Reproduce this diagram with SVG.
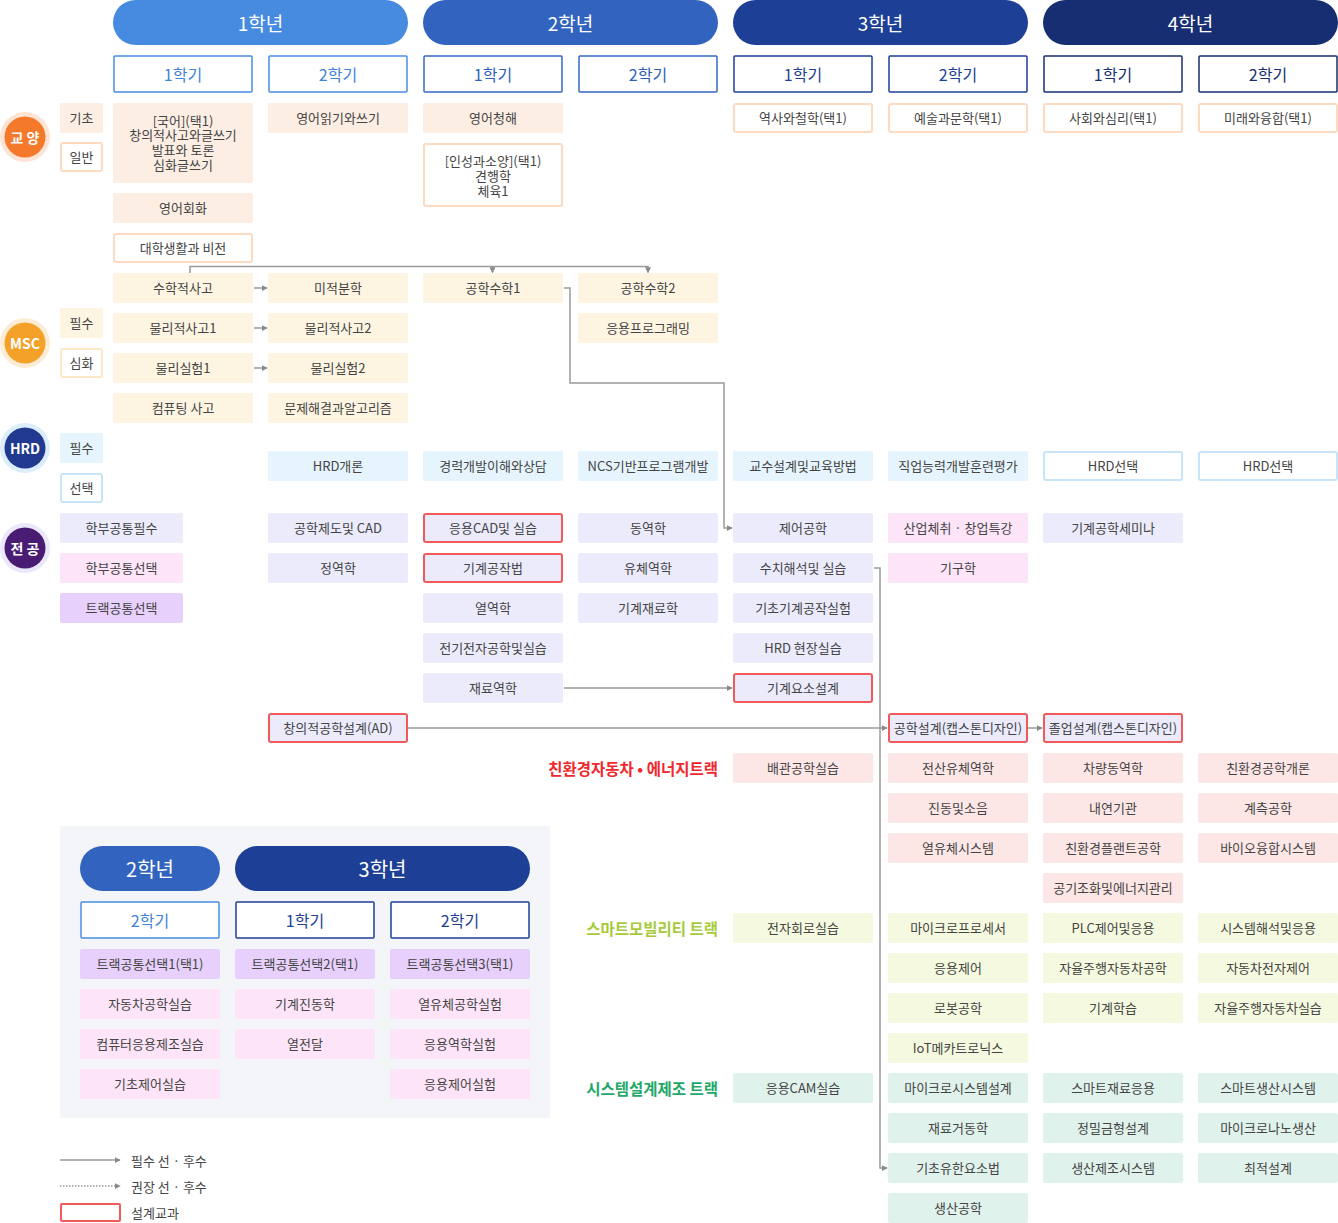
<svg xmlns="http://www.w3.org/2000/svg" width="1338" height="1223" viewBox="0 0 1338 1223">
<style>
text{font-family:"Noto Sans CJK KR","Noto Sans",sans-serif;dominant-baseline:central;text-anchor:middle}
.t{font-size:13px;fill:#444}
.yr{font-size:19px;fill:#fff}
.sm{font-size:16px}
.gy{fill:#fdeee4}
.go{fill:#fff;stroke:#fddac2;stroke-width:2}
.ms{fill:#fdf5e1}
.mso{fill:#fff;stroke:#fde9c6;stroke-width:2}
.hr{fill:#e6f4fd}
.hro{fill:#fff;stroke:#c8e4f8;stroke-width:2}
.mj{fill:#ebebfc}
.pk{fill:#fde4f8}
.pu{fill:#e7d0fb}
.rd{stroke:#f05a5a;stroke-width:2}
.r1{fill:#fde6e6}
.r2{fill:#f4f9df}
.r3{fill:#e0f2ec}
.con{fill:none;stroke:#9a9a9a;stroke-width:1.5}
.trk{font-size:15.5px;font-weight:bold;text-anchor:end}
</style>
<defs>
<marker id="ah" viewBox="0 0 8 8" refX="7" refY="4" markerWidth="6" markerHeight="6" markerUnits="userSpaceOnUse" orient="auto"><path d="M0,0 L8,4 L0,8 z" fill="#8a8a8a"/></marker>
</defs>

<!-- year headers -->
<g id="years">
<rect x="113" y="0" width="295" height="45" rx="22.5" fill="#468be0"/><text class="yr" x="260.5" y="22.5">1학년</text>
<rect x="423" y="0" width="295" height="45" rx="22.5" fill="#3264bf"/><text class="yr" x="570.5" y="22.5">2학년</text>
<rect x="733" y="0" width="295" height="45" rx="22.5" fill="#1e3f96"/><text class="yr" x="880.5" y="22.5">3학년</text>
<rect x="1043" y="0" width="295" height="45" rx="22.5" fill="#172f72"/><text class="yr" x="1190.5" y="22.5">4학년</text>
</g>
<g id="semesters">
<rect x="114" y="56" width="138" height="36" fill="#fff" stroke="#4a8de0" stroke-width="1.5" rx="1"/><text class="sm" x="183" y="74" fill="#3f83dc">1학기</text>
<rect x="269" y="56" width="138" height="36" fill="#fff" stroke="#4a8de0" stroke-width="1.5" rx="1"/><text class="sm" x="338" y="74" fill="#3f83dc">2학기</text>
<rect x="424" y="56" width="138" height="36" fill="#fff" stroke="#3567c3" stroke-width="1.5" rx="1"/><text class="sm" x="493" y="74" fill="#2e5fbb">1학기</text>
<rect x="579" y="56" width="138" height="36" fill="#fff" stroke="#3567c3" stroke-width="1.5" rx="1"/><text class="sm" x="648" y="74" fill="#2e5fbb">2학기</text>
<rect x="734" y="56" width="138" height="36" fill="#fff" stroke="#1e3f96" stroke-width="1.5" rx="1"/><text class="sm" x="803" y="74" fill="#1e3f96">1학기</text>
<rect x="889" y="56" width="138" height="36" fill="#fff" stroke="#1e3f96" stroke-width="1.5" rx="1"/><text class="sm" x="958" y="74" fill="#1e3f96">2학기</text>
<rect x="1044" y="56" width="138" height="36" fill="#fff" stroke="#172f72" stroke-width="1.5" rx="1"/><text class="sm" x="1113" y="74" fill="#172f72">1학기</text>
<rect x="1199" y="56" width="138" height="36" fill="#fff" stroke="#172f72" stroke-width="1.5" rx="1"/><text class="sm" x="1268" y="74" fill="#172f72">2학기</text>
</g>

<!-- category circles -->
<g id="cat-gyoyang"><circle cx="25" cy="137" r="25" fill="#fde4d4"/><circle cx="25" cy="137" r="20.5" fill="#f5792a"/><text x="25" y="137" font-size="14" font-weight="bold" fill="#fff">교 양</text></g>
<g id="cat-msc"><circle cx="25" cy="343" r="25" fill="#fdecd5"/><circle cx="25" cy="343" r="20.5" fill="#f4a12a"/><text x="25" y="343" font-size="14" font-weight="bold" fill="#fff">MSC</text></g>
<g id="cat-hrd"><circle cx="25" cy="448" r="25" fill="#dcedfb"/><circle cx="25" cy="448" r="20.5" fill="#213a8f"/><text x="25" y="448" font-size="14" font-weight="bold" fill="#fff">HRD</text></g>
<g id="cat-major"><circle cx="25" cy="548" r="25" fill="#ebe8fb"/><circle cx="25" cy="548" r="20.5" fill="#4a1b73"/><text x="25" y="548" font-size="14" font-weight="bold" fill="#fff">전 공</text></g>

<!-- sub labels -->
<g id="lab-basic"><rect class="gy" x="60" y="103" width="43" height="30" rx="2"/><text class="t" x="81.5" y="117.5">기초</text></g>
<g id="lab-general"><rect class="go" x="61" y="143" width="41" height="28" rx="2"/><text class="t" x="81.5" y="156.5">일반</text></g>
<g id="lab-msc-req"><rect class="ms" x="60" y="308" width="43" height="30" rx="2"/><text class="t" x="81.5" y="322.5">필수</text></g>
<g id="lab-msc-adv"><rect class="mso" x="61" y="349" width="41" height="28" rx="2"/><text class="t" x="81.5" y="362.5">심화</text></g>
<g id="lab-hrd-req"><rect class="hr" x="60" y="433" width="43" height="30" rx="2"/><text class="t" x="81.5" y="447.5">필수</text></g>
<g id="lab-hrd-sel"><rect class="hro" x="61" y="474" width="41" height="28" rx="2"/><text class="t" x="81.5" y="487.5">선택</text></g>
<g id="lab-m1"><rect class="mj" x="60" y="513" width="123" height="30" rx="2"/><text class="t" x="121.5" y="527.5">학부공통필수</text></g>
<g id="lab-m2"><rect class="pk" x="60" y="553" width="123" height="30" rx="2"/><text class="t" x="121.5" y="567.5">학부공통선택</text></g>
<g id="lab-m3"><rect class="pu" x="60" y="593" width="123" height="30" rx="2"/><text class="t" x="121.5" y="607.5">트랙공통선택</text></g>

<!-- 교양 -->
<g id="n-korean"><rect class="gy" x="113" y="103" width="140" height="80" rx="2"/><text class="t" x="183" y="119.5"><tspan x="183">[국어](택1)</tspan><tspan x="183" dy="14.8">창의적사고와글쓰기</tspan><tspan x="183" dy="14.8">발표와 토론</tspan><tspan x="183" dy="14.8">심화글쓰기</tspan></text></g>
<g id="n-eng-rw"><rect class="gy" x="268" y="103" width="140" height="30" rx="2"/><text class="t" x="338" y="117.5">영어읽기와쓰기</text></g>
<g id="n-eng-listen"><rect class="gy" x="423" y="103" width="140" height="30" rx="2"/><text class="t" x="493" y="117.5">영어청해</text></g>
<g id="n-insung"><rect class="go" x="424" y="144" width="138" height="62" rx="2"/><text class="t" x="493" y="159.5"><tspan x="493">[인성과소양](택1)</tspan><tspan x="493" dy="15">견행학</tspan><tspan x="493" dy="15">체육1</tspan></text></g>
<g id="n-history"><rect class="go" x="734" y="104" width="138" height="28" rx="2"/><text class="t" x="803" y="117.5">역사와철학(택1)</text></g>
<g id="n-art"><rect class="go" x="889" y="104" width="138" height="28" rx="2"/><text class="t" x="958" y="117.5">예술과문학(택1)</text></g>
<g id="n-society"><rect class="go" x="1044" y="104" width="138" height="28" rx="2"/><text class="t" x="1113" y="117.5">사회와심리(택1)</text></g>
<g id="n-future"><rect class="go" x="1199" y="104" width="138" height="28" rx="2"/><text class="t" x="1268" y="117.5">미래와융합(택1)</text></g>
<g id="n-eng-conv"><rect class="gy" x="113" y="193" width="140" height="30" rx="2"/><text class="t" x="183" y="207.5">영어회화</text></g>
<g id="n-college"><rect class="go" x="114" y="234" width="138" height="28" rx="2"/><text class="t" x="183" y="247.5">대학생활과 비전</text></g>

<!-- MSC -->
<g id="n-math-think"><rect class="ms" x="113" y="273" width="140" height="30" rx="2"/><text class="t" x="183" y="287.5">수학적사고</text></g>
<g id="n-calculus"><rect class="ms" x="268" y="273" width="140" height="30" rx="2"/><text class="t" x="338" y="287.5">미적분학</text></g>
<g id="n-engmath1"><rect class="ms" x="423" y="273" width="140" height="30" rx="2"/><text class="t" x="493" y="287.5">공학수학1</text></g>
<g id="n-engmath2"><rect class="ms" x="578" y="273" width="140" height="30" rx="2"/><text class="t" x="648" y="287.5">공학수학2</text></g>
<g id="n-phys1"><rect class="ms" x="113" y="313" width="140" height="30" rx="2"/><text class="t" x="183" y="327.5">물리적사고1</text></g>
<g id="n-phys2"><rect class="ms" x="268" y="313" width="140" height="30" rx="2"/><text class="t" x="338" y="327.5">물리적사고2</text></g>
<g id="n-appprog"><rect class="ms" x="578" y="313" width="140" height="30" rx="2"/><text class="t" x="648" y="327.5">응용프로그래밍</text></g>
<g id="n-physlab1"><rect class="ms" x="113" y="353" width="140" height="30" rx="2"/><text class="t" x="183" y="367.5">물리실험1</text></g>
<g id="n-physlab2"><rect class="ms" x="268" y="353" width="140" height="30" rx="2"/><text class="t" x="338" y="367.5">물리실험2</text></g>
<g id="n-computing"><rect class="ms" x="113" y="393" width="140" height="30" rx="2"/><text class="t" x="183" y="407.5">컴퓨팅 사고</text></g>
<g id="n-algo"><rect class="ms" x="268" y="393" width="140" height="30" rx="2"/><text class="t" x="338" y="407.5">문제해결과알고리즘</text></g>

<!-- HRD -->
<g id="n-hrd-intro"><rect class="hr" x="268" y="451" width="140" height="30" rx="2"/><text class="t" x="338" y="465.5">HRD개론</text></g>
<g id="n-career"><rect class="hr" x="423" y="451" width="140" height="30" rx="2"/><text class="t" x="493" y="465.5">경력개발이해와상담</text></g>
<g id="n-ncs"><rect class="hr" x="578" y="451" width="140" height="30" rx="2"/><text class="t" x="648" y="465.5">NCS기반프로그램개발</text></g>
<g id="n-teach"><rect class="hr" x="733" y="451" width="140" height="30" rx="2"/><text class="t" x="803" y="465.5">교수설계및교육방법</text></g>
<g id="n-eval"><rect class="hr" x="888" y="451" width="140" height="30" rx="2"/><text class="t" x="958" y="465.5">직업능력개발훈련평가</text></g>
<g id="n-hrdsel1"><rect class="hro" x="1044" y="452" width="138" height="28" rx="2"/><text class="t" x="1113" y="465.5">HRD선택</text></g>
<g id="n-hrdsel2"><rect class="hro" x="1199" y="452" width="138" height="28" rx="2"/><text class="t" x="1268" y="465.5">HRD선택</text></g>

<!-- 전공 -->
<g id="n-drawing"><rect class="mj" x="268" y="513" width="140" height="30" rx="2"/><text class="t" x="338" y="527.5">공학제도및 CAD</text></g>
<g id="n-statics"><rect class="mj" x="268" y="553" width="140" height="30" rx="2"/><text class="t" x="338" y="567.5">정역학</text></g>
<g id="n-ad"><rect class="mj rd" x="269" y="714" width="138" height="28" rx="2"/><text class="t" x="338" y="727.5">창의적공학설계(AD)</text></g>
<g id="n-appcad"><rect class="mj rd" x="424" y="514" width="138" height="28" rx="2"/><text class="t" x="493" y="527.5">응용CAD및 실습</text></g>
<g id="n-machining"><rect class="mj rd" x="424" y="554" width="138" height="28" rx="2"/><text class="t" x="493" y="567.5">기계공작법</text></g>
<g id="n-thermo"><rect class="mj" x="423" y="593" width="140" height="30" rx="2"/><text class="t" x="493" y="607.5">열역학</text></g>
<g id="n-elec"><rect class="mj" x="423" y="633" width="140" height="30" rx="2"/><text class="t" x="493" y="647.5">전기전자공학및실습</text></g>
<g id="n-mechmat"><rect class="mj" x="423" y="673" width="140" height="30" rx="2"/><text class="t" x="493" y="687.5">재료역학</text></g>
<g id="n-dynamics"><rect class="mj" x="578" y="513" width="140" height="30" rx="2"/><text class="t" x="648" y="527.5">동역학</text></g>
<g id="n-fluid"><rect class="mj" x="578" y="553" width="140" height="30" rx="2"/><text class="t" x="648" y="567.5">유체역학</text></g>
<g id="n-materials"><rect class="mj" x="578" y="593" width="140" height="30" rx="2"/><text class="t" x="648" y="607.5">기계재료학</text></g>
<g id="n-control"><rect class="mj" x="733" y="513" width="140" height="30" rx="2"/><text class="t" x="803" y="527.5">제어공학</text></g>
<g id="n-numeric"><rect class="mj" x="733" y="553" width="140" height="30" rx="2"/><text class="t" x="803" y="567.5">수치해석및 실습</text></g>
<g id="n-basiclab"><rect class="mj" x="733" y="593" width="140" height="30" rx="2"/><text class="t" x="803" y="607.5">기초기계공작실험</text></g>
<g id="n-hrdfield"><rect class="mj" x="733" y="633" width="140" height="30" rx="2"/><text class="t" x="803" y="647.5">HRD 현장실습</text></g>
<g id="n-element"><rect class="mj rd" x="734" y="674" width="138" height="28" rx="2"/><text class="t" x="803" y="687.5">기계요소설계</text></g>
<g id="n-industry"><rect class="pk" x="888" y="513" width="140" height="30" rx="2"/><text class="t" x="958" y="527.5">산업체취 · 창업특강</text></g>
<g id="n-kinematics"><rect class="pk" x="888" y="553" width="140" height="30" rx="2"/><text class="t" x="958" y="567.5">기구학</text></g>
<g id="n-capstone1"><rect class="mj rd" x="889" y="714" width="138" height="28" rx="2"/><text class="t" x="958" y="727.5">공학설계(캡스톤디자인)</text></g>
<g id="n-seminar"><rect class="mj" x="1043" y="513" width="140" height="30" rx="2"/><text class="t" x="1113" y="527.5">기계공학세미나</text></g>
<g id="n-capstone2"><rect class="mj rd" x="1044" y="714" width="138" height="28" rx="2"/><text class="t" x="1113" y="727.5">졸업설계(캡스톤디자인)</text></g>

<!-- tracks -->
<text class="trk" x="718" y="767.5" fill="#f0282d">친환경자동차 • 에너지트랙</text>
<text class="trk" x="718" y="927.5" fill="#a7cb3a">스마트모빌리티 트랙</text>
<text class="trk" x="718" y="1087.5" fill="#1fa86a">시스템설계제조 트랙</text>

<g id="n-pipe"><rect class="r1" x="733" y="753" width="140" height="30" rx="2"/><text class="t" x="803" y="767.5">배관공학실습</text></g>
<g id="n-cfd"><rect class="r1" x="888" y="753" width="140" height="30" rx="2"/><text class="t" x="958" y="767.5">전산유체역학</text></g>
<g id="n-vib"><rect class="r1" x="888" y="793" width="140" height="30" rx="2"/><text class="t" x="958" y="807.5">진동및소음</text></g>
<g id="n-thermsys"><rect class="r1" x="888" y="833" width="140" height="30" rx="2"/><text class="t" x="958" y="847.5">열유체시스템</text></g>
<g id="n-vehdyn"><rect class="r1" x="1043" y="753" width="140" height="30" rx="2"/><text class="t" x="1113" y="767.5">차량동역학</text></g>
<g id="n-engine"><rect class="r1" x="1043" y="793" width="140" height="30" rx="2"/><text class="t" x="1113" y="807.5">내연기관</text></g>
<g id="n-plant"><rect class="r1" x="1043" y="833" width="140" height="30" rx="2"/><text class="t" x="1113" y="847.5">친환경플랜트공학</text></g>
<g id="n-hvac"><rect class="r1" x="1043" y="873" width="140" height="30" rx="2"/><text class="t" x="1113" y="887.5">공기조화및에너지관리</text></g>
<g id="n-eco"><rect class="r1" x="1198" y="753" width="140" height="30" rx="2"/><text class="t" x="1268" y="767.5">친환경공학개론</text></g>
<g id="n-measure"><rect class="r1" x="1198" y="793" width="140" height="30" rx="2"/><text class="t" x="1268" y="807.5">계측공학</text></g>
<g id="n-bio"><rect class="r1" x="1198" y="833" width="140" height="30" rx="2"/><text class="t" x="1268" y="847.5">바이오융합시스템</text></g>

<g id="n-circuit"><rect class="r2" x="733" y="913" width="140" height="30" rx="2"/><text class="t" x="803" y="927.5">전자회로실습</text></g>
<g id="n-micro"><rect class="r2" x="888" y="913" width="140" height="30" rx="2"/><text class="t" x="958" y="927.5">마이크로프로세서</text></g>
<g id="n-appctrl"><rect class="r2" x="888" y="953" width="140" height="30" rx="2"/><text class="t" x="958" y="967.5">응용제어</text></g>
<g id="n-robot"><rect class="r2" x="888" y="993" width="140" height="30" rx="2"/><text class="t" x="958" y="1007.5">로봇공학</text></g>
<g id="n-iot"><rect class="r2" x="888" y="1033" width="140" height="30" rx="2"/><text class="t" x="958" y="1047.5">IoT메카트로닉스</text></g>
<g id="n-plc"><rect class="r2" x="1043" y="913" width="140" height="30" rx="2"/><text class="t" x="1113" y="927.5">PLC제어및응용</text></g>
<g id="n-auto"><rect class="r2" x="1043" y="953" width="140" height="30" rx="2"/><text class="t" x="1113" y="967.5">자율주행자동차공학</text></g>
<g id="n-ml"><rect class="r2" x="1043" y="993" width="140" height="30" rx="2"/><text class="t" x="1113" y="1007.5">기계학습</text></g>
<g id="n-sysana"><rect class="r2" x="1198" y="913" width="140" height="30" rx="2"/><text class="t" x="1268" y="927.5">시스템해석및응용</text></g>
<g id="n-autoelec"><rect class="r2" x="1198" y="953" width="140" height="30" rx="2"/><text class="t" x="1268" y="967.5">자동차전자제어</text></g>
<g id="n-autolab"><rect class="r2" x="1198" y="993" width="140" height="30" rx="2"/><text class="t" x="1268" y="1007.5">자율주행자동차실습</text></g>

<g id="n-cam"><rect class="r3" x="733" y="1073" width="140" height="30" rx="2"/><text class="t" x="803" y="1087.5">응용CAM실습</text></g>
<g id="n-microsys"><rect class="r3" x="888" y="1073" width="140" height="30" rx="2"/><text class="t" x="958" y="1087.5">마이크로시스템설계</text></g>
<g id="n-matbeh"><rect class="r3" x="888" y="1113" width="140" height="30" rx="2"/><text class="t" x="958" y="1127.5">재료거동학</text></g>
<g id="n-fem"><rect class="r3" x="888" y="1153" width="140" height="30" rx="2"/><text class="t" x="958" y="1167.5">기초유한요소법</text></g>
<g id="n-prodeng"><rect class="r3" x="888" y="1193" width="140" height="30" rx="2"/><text class="t" x="958" y="1207.5">생산공학</text></g>
<g id="n-smartmat"><rect class="r3" x="1043" y="1073" width="140" height="30" rx="2"/><text class="t" x="1113" y="1087.5">스마트재료응용</text></g>
<g id="n-mold"><rect class="r3" x="1043" y="1113" width="140" height="30" rx="2"/><text class="t" x="1113" y="1127.5">정밀금형설계</text></g>
<g id="n-mfgsys"><rect class="r3" x="1043" y="1153" width="140" height="30" rx="2"/><text class="t" x="1113" y="1167.5">생산제조시스템</text></g>
<g id="n-smartprod"><rect class="r3" x="1198" y="1073" width="140" height="30" rx="2"/><text class="t" x="1268" y="1087.5">스마트생산시스템</text></g>
<g id="n-nano"><rect class="r3" x="1198" y="1113" width="140" height="30" rx="2"/><text class="t" x="1268" y="1127.5">마이크로나노생산</text></g>
<g id="n-optimal"><rect class="r3" x="1198" y="1153" width="140" height="30" rx="2"/><text class="t" x="1268" y="1167.5">최적설계</text></g>

<!-- inset panel -->
<g id="inset">
<rect x="60" y="826" width="490" height="292" fill="#f4f5f8"/>
<rect x="80" y="846" width="140" height="45" rx="22.5" fill="#3264bf"/><text x="150" y="868.5" font-size="20" fill="#fff">2학년</text>
<rect x="235" y="846" width="295" height="45" rx="22.5" fill="#1e3f96"/><text x="382.5" y="868.5" font-size="20" fill="#fff">3학년</text>
<rect x="81" y="902" width="138" height="36" fill="#fff" stroke="#4a8de0" stroke-width="1.5" rx="1"/><text class="sm" x="150" y="920" fill="#3f83dc">2학기</text>
<rect x="236" y="902" width="138" height="36" fill="#fff" stroke="#1e3f96" stroke-width="1.5" rx="1"/><text class="sm" x="305" y="920" fill="#1e3f96">1학기</text>
<rect x="391" y="902" width="138" height="36" fill="#fff" stroke="#1e3f96" stroke-width="1.5" rx="1"/><text class="sm" x="460" y="920" fill="#1e3f96">2학기</text>
</g>
<g id="n-tc1"><rect class="pu" x="80" y="949" width="140" height="30" rx="2"/><text class="t" x="150" y="963.5">트랙공통선택1(택1)</text></g>
<g id="n-tc2"><rect class="pu" x="235" y="949" width="140" height="30" rx="2"/><text class="t" x="305" y="963.5">트랙공통선택2(택1)</text></g>
<g id="n-tc3"><rect class="pu" x="390" y="949" width="140" height="30" rx="2"/><text class="t" x="460" y="963.5">트랙공통선택3(택1)</text></g>
<g id="n-carlab"><rect class="pk" x="80" y="989" width="140" height="30" rx="2"/><text class="t" x="150" y="1003.5">자동차공학실습</text></g>
<g id="n-cim"><rect class="pk" x="80" y="1029" width="140" height="30" rx="2"/><text class="t" x="150" y="1043.5">컴퓨터응용제조실습</text></g>
<g id="n-ctrllab"><rect class="pk" x="80" y="1069" width="140" height="30" rx="2"/><text class="t" x="150" y="1083.5">기초제어실습</text></g>
<g id="n-mechvib"><rect class="pk" x="235" y="989" width="140" height="30" rx="2"/><text class="t" x="305" y="1003.5">기계진동학</text></g>
<g id="n-heat"><rect class="pk" x="235" y="1029" width="140" height="30" rx="2"/><text class="t" x="305" y="1043.5">열전달</text></g>
<g id="n-thermlab"><rect class="pk" x="390" y="989" width="140" height="30" rx="2"/><text class="t" x="460" y="1003.5">열유체공학실험</text></g>
<g id="n-appmechlab"><rect class="pk" x="390" y="1029" width="140" height="30" rx="2"/><text class="t" x="460" y="1043.5">응용역학실험</text></g>
<g id="n-appctrllab"><rect class="pk" x="390" y="1069" width="140" height="30" rx="2"/><text class="t" x="460" y="1083.5">응용제어실험</text></g>

<!-- connectors -->
<g id="connectors">
<path class="con" d="M190,273 V266.5 H648 V272.5" marker-end="url(#ah)"/>
<path class="con" d="M492.5,266.5 V272.5" marker-end="url(#ah)"/>
<path class="con" d="M254,288 H267" marker-end="url(#ah)"/>
<path class="con" d="M254,328 H267" marker-end="url(#ah)"/>
<path class="con" d="M254,368 H267" marker-end="url(#ah)"/>
<path class="con" d="M564,288 H570 V383 H724 V528 H732" marker-end="url(#ah)"/>
<path class="con" d="M564,688 H732" marker-end="url(#ah)"/>
<path class="con" d="M408,728 H887" marker-end="url(#ah)"/>
<path class="con" d="M1028,728 H1042" marker-end="url(#ah)"/>
<path class="con" d="M874,568 H880 V1168 H887" marker-end="url(#ah)"/>
</g>

<!-- legend -->
<g id="legend">
<path class="con" d="M60,1160 H120" marker-end="url(#ah)"/>
<text x="131" y="1160" font-size="13" fill="#444" style="text-anchor:start">필수 선 · 후수</text>
<path class="con" d="M60,1186 H120" stroke-dasharray="1.5,1.5" marker-end="url(#ah)"/>
<text x="131" y="1186" font-size="13" fill="#444" style="text-anchor:start">권장 선 · 후수</text>
<rect x="61" y="1204" width="59" height="17" fill="#fff" class="rd" rx="1"/>
<text x="131" y="1212" font-size="13" fill="#444" style="text-anchor:start">설계교과</text>
</g>
</svg>
